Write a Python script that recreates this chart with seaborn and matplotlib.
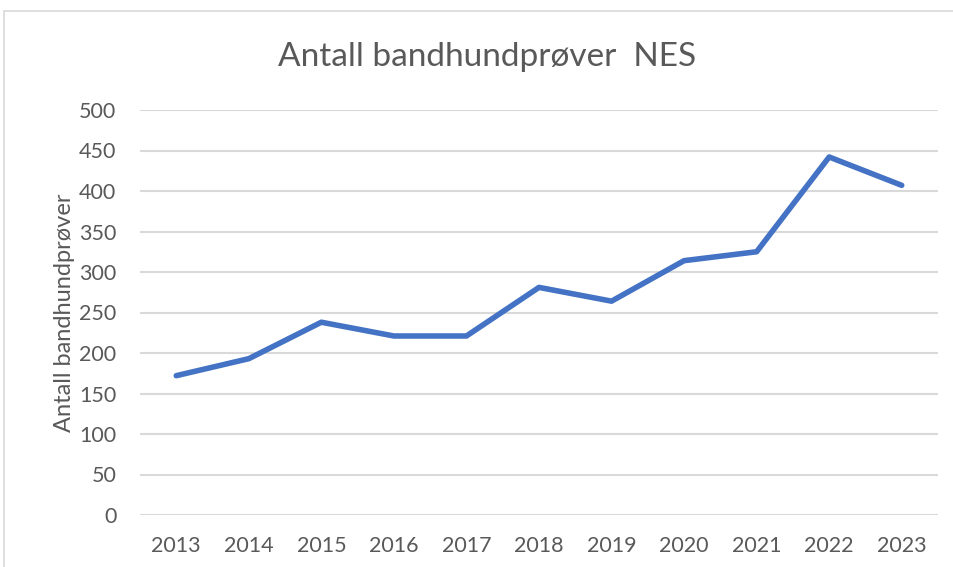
import matplotlib
matplotlib.use("Agg")
import matplotlib.pyplot as plt
from matplotlib.patches import Rectangle
from matplotlib import font_manager
import seaborn as sns
import pandas as pd

# Number of dog tests per year
years = ["2013", "2014", "2015", "2016", "2017", "2018",
         "2019", "2020", "2021", "2022", "2023"]
tests = [172, 193, 238, 221, 221, 281, 264, 314, 325, 442, 407]
y_ticks = [0, 50, 100, 150, 200, 250, 300, 350, 400, 450, 500]

sns.set_theme(style="white")
names = {f.name for f in font_manager.fontManager.ttflist}
family = "Liberation Sans Narrow" if "Liberation Sans Narrow" in names else "Lato"
plt.rcParams["font.family"] = [family, "DejaVu Sans"]

df = pd.DataFrame({"year": years, "tests": tests})
df["pos"] = range(len(years))

fig = plt.figure(figsize=(9.54, 5.67), dpi=100)
ax = fig.add_axes([140 / 954, 1 - 515 / 567, (938 - 140) / 954, (515 - 110) / 567])

# chart frame
fig.patches.append(Rectangle((4 / 954, -0.05), 1.05, 1 - 11 / 567 + 0.05,
                             transform=fig.transFigure, fill=False,
                             edgecolor="#D9D9D9", linewidth=1.2))

sns.lineplot(data=df, x="pos", y="tests", ax=ax, color="#4472C4",
             linewidth=4.0, solid_capstyle="round", solid_joinstyle="round")

ax.set_xlim(-0.5, len(years) - 0.5)
ax.set_ylim(0, 500)
ax.set_xticks(range(len(years)))
ax.set_xticklabels(years)
ax.set_yticks(y_ticks)
ax.set_yticklabels([str(v) for v in y_ticks])
ax.yaxis.grid(True, color="#D9D9D9", linewidth=1.5)
ax.set_axisbelow(True)
for s in ax.spines.values():
    s.set_visible(False)
ax.tick_params(axis="both", length=0, labelsize=15.5, colors="#595959")
ax.tick_params(axis="x", pad=15)
ax.tick_params(axis="y", pad=17)
ax.set_xlabel("")
ax.set_ylabel("Antall bandhundprøver", fontsize=17, color="#595959")
ax.yaxis.set_label_coords(-0.082, 0.5)

fig.text(487 / 954, 1 - 57 / 567, "Antall bandhundprøver  NES", ha="center",
         va="center", fontsize=24, color="#595959")

fig.savefig("out.png", dpi=100)
